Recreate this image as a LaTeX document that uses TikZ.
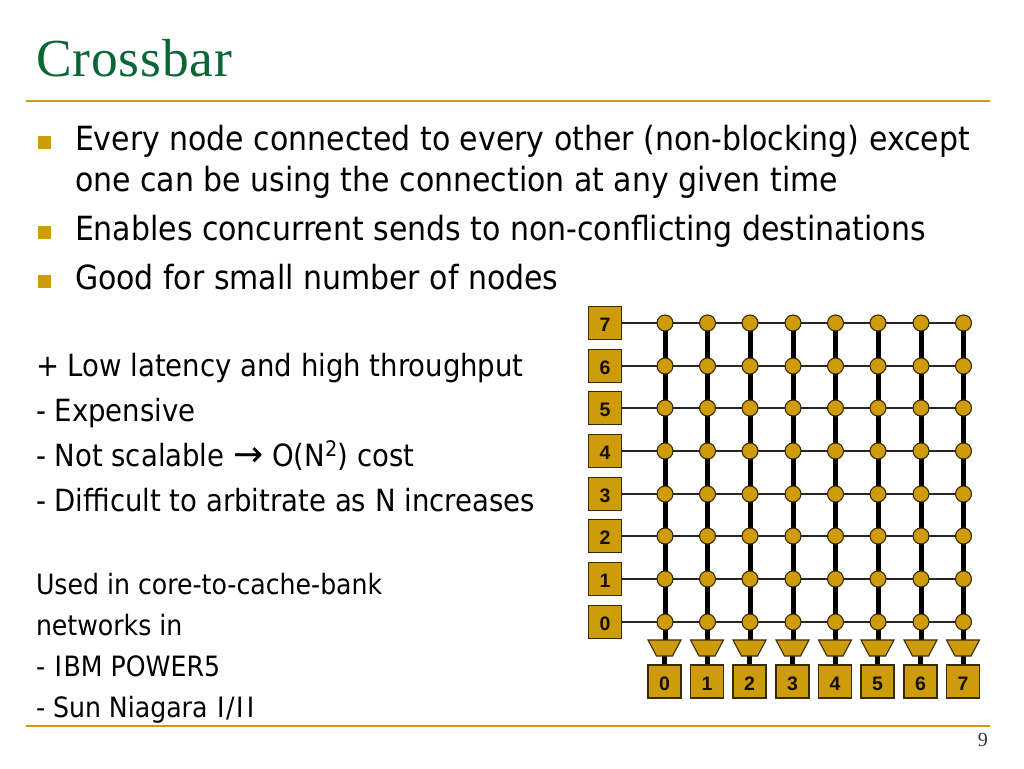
\documentclass[tikz,border=0pt]{standalone}
\usepackage{fontspec}
\setmainfont{DejaVu Sans Condensed}
\newfontfamily\titlefont{Liberation Serif}[LetterSpace=1.5]
\newfontfamily\pagefont{Liberation Serif}
\newfontfamily\labelfont{Liberation Sans}[BoldFont={Liberation Sans Bold}]
\newfontfamily\arrowfont{DejaVu Sans}
\newcommand{\wideI}{\kern1.6pt I\kern1.6pt}
\definecolor{gold}{HTML}{CE9B0A}
\definecolor{edge}{HTML}{3A2A05}
\definecolor{titlegreen}{HTML}{0B6636}
\definecolor{rulegold}{HTML}{CC9A14}
\tikzset{
  x=1pt,y=-1pt,
  bodytext/.style={anchor=base west,inner sep=0pt,outer sep=0pt,font=\fontsize{33.3}{36}\selectfont,text=black},
  subtext/.style={anchor=base west,inner sep=0pt,outer sep=0pt,font=\fontsize{30.6}{32}\selectfont,text=black},
  smalltext/.style={anchor=base west,inner sep=0pt,outer sep=0pt,font=\fontsize{28}{30}\selectfont,text=black},
  portbox/.style={draw=edge,line width=1.1pt,fill=gold,minimum size=33pt,inner sep=0pt,text depth=0pt,text height=17pt,font=\labelfont\bfseries\fontsize{19.5}{19.5}\selectfont,text=black!90!gold},
  junction/.style={circle,draw=edge,line width=1.1pt,fill=gold,minimum size=16pt,inner sep=0pt},
  muxbox/.style={rectangle,minimum height=16pt,minimum width=33pt,inner sep=0pt,outer sep=0pt},
  muxfill/.style={draw=edge,line width=1.1pt,fill=gold,line join=miter},
  bullet/.style={fill=gold,minimum size=13pt,inner sep=0pt},
  wireh/.style={draw=black!85,line width=1.5pt},
  wirev/.style={draw=black,line width=5pt},
  rulegoldline/.style={draw=rulegold,line width=2.2pt},
}
\begin{document}
\begin{tikzpicture}
\useasboundingbox (0,0) rectangle (1024,768);
\node[anchor=base west,inner sep=0pt,text=titlegreen,font=\titlefont\fontsize{53.5}{53.5}\selectfont] (title) at (36,76) {Crossbar};
\coordinate (r1a) at (26,101); \coordinate (r1b) at (990,101);
\coordinate (r2a) at (26,726); \coordinate (r2b) at (990,726);
\draw[rulegoldline] (r1a) -- (r1b);
\draw[rulegoldline] (r2a) -- (r2b);
\node[bullet] (b1) at (44,142) {};
\node[bullet] (b2) at (44,232) {};
\node[bullet] (b3) at (44,281) {};
\node[bodytext] (t1) at (75,150) {Every node connected to every other (non-blocking) except};
\node[bodytext] (t2) at (75,191) {one can be using the connection at any given time};
\node[bodytext] (t3) at (75,240) {Enables concurrent sends to non-conflicting destinations};
\node[bodytext] (t4) at (75,289) {Good for small number of nodes};
\node[subtext] (s1) at (36,376) {+ Low latency and high throughput};
\node[subtext] (s2) at (36,421) {- Expensive};
\node[subtext] (s3) at (36,466) {- Not scalable {\arrowfont\fontsize{36}{36}\selectfont →} O(N\textsuperscript{2}) cost};
\node[subtext] (s4) at (36,511) {- Difficult to arbitrate as N increases};
\node[smalltext] (u1) at (36,594) {Used in core-to-cache-bank};
\node[smalltext] (u2) at (36,635) {networks in};
\node[smalltext] (u3) at (36,676) {- \wideI BM POWER5};
\node[smalltext] (u4) at (36,717) {- Sun Niagara \wideI/\wideI\wideI};
\node[anchor=base east,inner sep=0pt,font=\pagefont\fontsize{20}{20}\selectfont,text=black!80] (pg) at (988,746) {9};
% rows and columns
\def\rowlist{0/622,1/579,2/536,3/494,4/451,5/408,6/366,7/323}
\def\collist{0/665,1/707.5,2/750,3/793,4/835.5,5/878,6/921,7/963.5}
\foreach \r/\yy in \rowlist { \node[portbox] (row\r) at (605,\yy) {\r}; }
\foreach \c/\xx in \collist {
  \node[portbox] (out\c) at (\xx-0.5,681.5) {\c};
  \node[muxbox] (mux\c) at (\xx-0.5,648) {};
  \foreach \r/\yy in \rowlist { \coordinate (j\c\r) at (\xx,\yy); }
}
% wires
\foreach \c in {0,...,7} {
  \draw[wirev] (j\c7) -- (j\c0 |- mux\c.north);
  \draw[wirev] (mux\c.south) -- (out\c.north);
}
\foreach \r in {0,...,7} { \draw[wireh] (row\r.east) -- (j7\r); }
\foreach \c in {0,...,7} {
  \draw[muxfill] (mux\c.north west) -- (mux\c.north east) -- ([xshift=-8.5pt]mux\c.south east) -- ([xshift=8.5pt]mux\c.south west) -- cycle;
  \foreach \r in {0,...,7} { \node[junction] (n\c\r) at (j\c\r) {}; }
}
\end{tikzpicture}
\end{document}
